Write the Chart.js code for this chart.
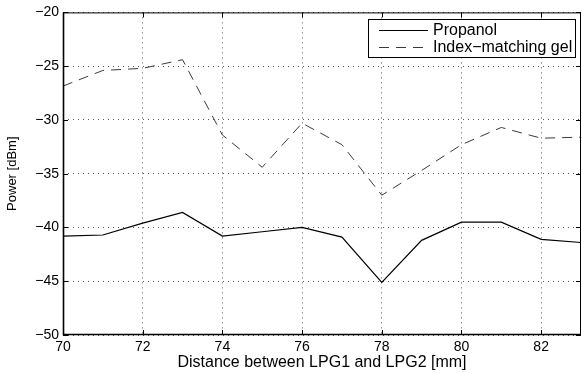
<!DOCTYPE html>
<html>
<head>
<meta charset="utf-8">
<script src="https://cdn.jsdelivr.net/npm/chart.js@4"></script>
<style>
  html, body { margin: 0; padding: 0; background: #fff; }
  #wrap { width: 582px; height: 374px; }
</style>
</head>
<body>
<div id="wrap"><canvas id="powerChart" width="582" height="374"></canvas></div>
<script>
// --- Data ---
const distances = [70, 71, 72, 73, 74, 75, 76, 77, 78, 79, 80, 81, 82, 83];
const propanol = [-40.8, -40.7, -39.6, -38.6, -40.8, -40.4, -40.0, -40.9, -45.1, -41.2, -39.5, -39.5, -41.1, -41.4];
const gel = [-26.85, -25.4, -25.2, -24.4, -31.4, -34.4, -30.3, -32.3, -37.0, -34.7, -32.3, -30.7, -31.7, -31.6];
const xTicks = [70, 72, 74, 76, 78, 80, 82];
const yTicks = [-50, -45, -40, -35, -30, -25, -20];

const FONT = "'Liberation Sans', Arial, Helvetica, sans-serif";

const toPoints = (xs, ys) => xs.map((x, i) => ({ x, y: ys[i] }));
const fmt = v => (v < 0 ? "\u2212" + Math.abs(v) : String(v));

// --- Frame, inward ticks and in-plot legend (MATLAB look) ---
const matlabFrame = {
  id: "matlabFrame",
  afterDatasetsDraw(chart) {
    const { ctx, chartArea: a, scales } = chart;
    ctx.save();
    ctx.strokeStyle = "#000";
    ctx.lineWidth = 1;
    ctx.setLineDash([]);
    ctx.strokeRect(a.left + 0.5, a.top + 0.5, a.right - a.left - 1, a.bottom - a.top - 1);

    // heavier left and bottom axis lines
    ctx.lineWidth = 1.6;
    ctx.beginPath();
    ctx.moveTo(a.left + 0.5, a.top);
    ctx.lineTo(a.left + 0.5, a.bottom - 0.5);
    ctx.lineTo(a.right, a.bottom - 0.5);
    ctx.stroke();

    ctx.lineWidth = 1;
    const tl = 5;
    ctx.beginPath();
    xTicks.forEach(v => {
      const px = Math.round(scales.x.getPixelForValue(v)) + 0.5;
      ctx.moveTo(px, a.bottom); ctx.lineTo(px, a.bottom - tl);
      ctx.moveTo(px, a.top); ctx.lineTo(px, a.top + tl);
    });
    yTicks.forEach(v => {
      const py = Math.round(scales.y.getPixelForValue(v)) + 0.5;
      ctx.moveTo(a.left, py); ctx.lineTo(a.left + tl, py);
      ctx.moveTo(a.right, py); ctx.lineTo(a.right - tl, py);
    });
    ctx.stroke();

    // legend box
    const box = { x: 368, y: 19, w: 207, h: 38 };
    ctx.fillStyle = "#fff";
    ctx.fillRect(box.x, box.y, box.w, box.h);
    ctx.strokeRect(box.x + 0.5, box.y + 0.5, box.w, box.h);
    ctx.font = "16px " + FONT;
    ctx.textBaseline = "middle";
    ctx.fillStyle = "#000";
    chart.data.datasets.forEach((ds, i) => {
      const y = box.y + 11 + i * 16.5;
      ctx.beginPath();
      ctx.strokeStyle = ds.borderColor;
      ctx.lineWidth = ds.borderWidth;
      ctx.setLineDash(ds.borderDash || []);
      ctx.moveTo(box.x + 11, Math.round(y) + 0.5);
      ctx.lineTo(box.x + 60, Math.round(y) + 0.5);
      ctx.stroke();
      ctx.setLineDash([]);
      ctx.fillText(ds.label, box.x + 65, y + 1);
    });
    ctx.restore();
  }
};

const ctx = document.getElementById("powerChart").getContext("2d");

new Chart(ctx, {
  type: "line",
  data: {
    datasets: [
      {
        label: "Propanol",
        data: toPoints(distances, propanol),
        borderColor: "#000",
        borderWidth: 1.2,
        pointRadius: 0,
        tension: 0,
        fill: false
      },
      {
        label: "Index\u2212matching gel",
        data: toPoints(distances, gel),
        borderColor: "#3a3a3a",
        borderWidth: 1,
        borderDash: [10, 7],
        pointRadius: 0,
        tension: 0,
        fill: false
      }
    ]
  },
  options: {
    responsive: false,
    animation: false,
    layout: { padding: { top: 11, right: 1, left: 0, bottom: 0 } },
    plugins: {
      legend: { display: false },
      tooltip: { enabled: false }
    },
    scales: {
      x: {
        type: "linear",
        min: 70,
        max: 83,
        afterBuildTicks: s => { s.ticks = xTicks.map(v => ({ value: v })); },
        afterFit: s => { s.height = 39; },
        ticks: {
          color: "#000",
          padding: 4,
          maxRotation: 0,
          font: { family: FONT, size: 14 },
          callback: v => fmt(v)
        },
        grid: { color: "#555", lineWidth: 1, drawTicks: false },
        border: { display: false, dash: [1, 4] },
        title: {
          display: true,
          text: "Distance between LPG1 and LPG2 [mm]",
          color: "#000",
          font: { family: FONT, size: 16 },
          padding: { top: 0, bottom: 2 }
        }
      },
      y: {
        min: -50,
        max: -20,
        afterBuildTicks: s => { s.ticks = yTicks.map(v => ({ value: v })); },
        afterFit: s => { s.width = 63; },
        ticks: {
          color: "#000",
          padding: 4,
          font: { family: FONT, size: 14 },
          callback: v => fmt(v)
        },
        grid: { color: "#555", lineWidth: 1, drawTicks: false },
        border: { display: false, dash: [1, 4] },
        title: {
          display: true,
          text: "Power [dBm]",
          color: "#000",
          font: { family: FONT, size: 13 },
          padding: { top: 5, bottom: 0 }
        }
      }
    }
  },
  plugins: [matlabFrame]
});
</script>
</body>
</html>
